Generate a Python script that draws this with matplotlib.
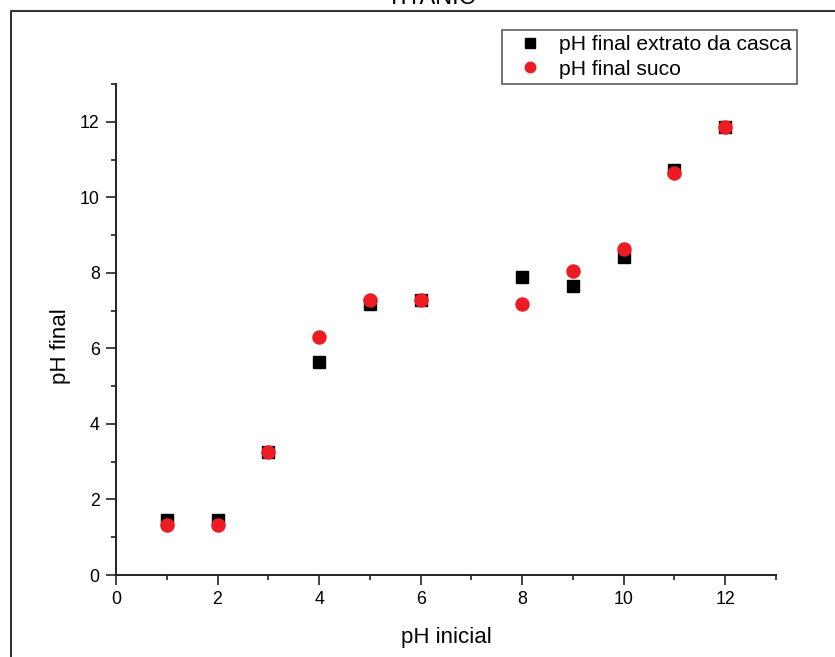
import matplotlib
matplotlib.use("Agg")
import matplotlib.pyplot as plt
from matplotlib.lines import Line2D
from matplotlib.ticker import MultipleLocator

# ---- data ----
ph_inicial = [1, 2, 3, 4, 5, 6, 8, 9, 10, 11, 12]
ph_final_casca = [1.45, 1.45, 3.26, 5.65, 7.18, 7.28, 7.90, 7.65, 8.42, 10.73, 11.85]
ph_final_suco = [1.33, 1.32, 3.25, 6.29, 7.27, 7.27, 7.18, 8.06, 8.62, 10.65, 11.86]
label_casca = "pH final extrato da casca"
label_suco = "pH final suco"
x_label = "pH inicial"
y_label = "pH final"
title = "TITANIC"

plt.rcParams['font.family'] = ['Liberation Sans', 'DejaVu Sans']

W, H = 835, 657
fig = plt.figure(figsize=(W / 100, H / 100), dpi=100)
fig.patch.set_facecolor('white')

L, R, B, T = 116, 776, 575, 84
ax = fig.add_axes([L / W, 1 - B / H, (R - L) / W, (B - T) / H])

ax.plot(ph_inicial, ph_final_casca, linestyle='none', marker='s', markersize=8.4,
        color='black', label=label_casca, zorder=3)
ax.plot(ph_inicial, ph_final_suco, linestyle='none', marker='o', markersize=9.4,
        color='#ED1C24', label=label_suco, zorder=4)

ax.set_xlim(0, 13)
ax.set_ylim(0, 13)
ax.xaxis.set_major_locator(MultipleLocator(2))
ax.xaxis.set_minor_locator(MultipleLocator(1))
ax.yaxis.set_major_locator(MultipleLocator(2))
ax.yaxis.set_minor_locator(MultipleLocator(1))

for s in ['top', 'right']:
    ax.spines[s].set_visible(False)
for s in ['left', 'bottom']:
    ax.spines[s].set_linewidth(1.4)
    ax.spines[s].set_color('#222222')

ax.tick_params(which='major', direction='out', length=7.2, width=1.2, color='#222222',
               labelsize=12.8, pad=4.5)
ax.tick_params(which='minor', direction='out', length=3.6, width=1.2, color='#222222')

ax.set_xlabel(x_label, fontsize=16)
ax.set_ylabel(y_label, fontsize=16)
ax.xaxis.set_label_coords(0.5, -0.106)
ax.yaxis.set_label_coords(-0.068, 0.466)

leg = ax.legend(loc='upper right', bbox_to_anchor=(797 / W, 1 - 30 / H),
                bbox_transform=fig.transFigure, borderaxespad=0,
                fontsize=15.2, frameon=True, fancybox=False, shadow=False,
                handlelength=2.15, handletextpad=0.3, borderpad=0.25,
                labelspacing=0.25, markerscale=0.8)
leg.get_frame().set_edgecolor('#333333')
leg.get_frame().set_linewidth(1.2)

# figure border (partially visible)
fig.add_artist(Line2D([11 / W, 11 / W, 1.01], [-0.01, 1 - 11 / H, 1 - 11 / H],
                      transform=fig.transFigure, color='#333333', linewidth=1.5))

fig.text(431 / W, 1 - 4 / H, title, ha='center', va='baseline', fontsize=17)

fig.savefig('out.png', dpi=100, facecolor='white')
